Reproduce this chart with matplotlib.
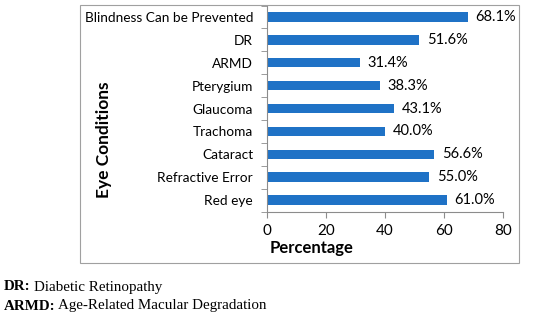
import matplotlib.pyplot as plt
import numpy as np
from matplotlib.patches import Rectangle

conditions = ["Red eye", "Refractive Error", "Cataract", "Trachoma", "Glaucoma",
              "Pterygium", "ARMD", "DR", "Blindness Can be Prevented"]
percent = [61.0, 55.0, 56.6, 40.0, 43.1, 38.3, 31.4, 51.6, 68.1]
xticks = [0, 20, 40, 60, 80]

BAR = "#1f72c6"
GRID = "#8c8c8c"
SANS = ["Lato", "DejaVu Sans"]
SERIF = ["Liberation Serif", "DejaVu Serif"]

W, H = 550, 320
fig = plt.figure(figsize=(W / 100, H / 100), dpi=100)
ax = fig.add_axes([267 / W, 1 - 211.5 / H, (503 - 267) / W, (211.5 - 5.6) / H])

y = np.arange(len(conditions))
bars = ax.barh(y, percent, height=0.41, color=BAR)
for b, v in zip(bars, percent):
    ax.text(v + 2.6, b.get_y() + b.get_height() / 2, f"{v:.1f}%",
            va="center", ha="left", fontsize=10.5, family=SANS)

ax.set_xlim(0, 80)
ax.set_ylim(-0.5, len(conditions) - 0.5)
ax.set_xticks(xticks)
ax.set_xticklabels([str(t) for t in xticks], fontsize=11, family=SANS)
ax.set_yticks(y)
ax.set_yticklabels(conditions, fontsize=9.8, family=SANS)
ax.set_yticks(np.arange(-0.5, len(conditions)), minor=True)
ax.tick_params(axis="y", which="major", length=0, pad=10)
ax.tick_params(axis="y", which="minor", length=4, color=GRID, direction="out")
ax.tick_params(axis="x", length=4, color=GRID, pad=5)

for s in ["top", "right"]:
    ax.spines[s].set_visible(False)
for s in ["left", "bottom"]:
    ax.spines[s].set_color(GRID)

# axis titles sit where Excel put them, not centred on the axes
fig.text(312 / W, 1 - 248 / H, "Percentage", ha="center", va="center",
         fontsize=12, fontweight="bold", family=SANS)
fig.text(104 / W, 1 - 140 / H, "Eye Conditions", rotation=90, ha="center", va="center",
         fontsize=12.5, fontweight="bold", family=SANS)

fig.patches.append(Rectangle((80 / W, 1 - 263 / H), (519 - 80) / W, (263 - 5) / H,
                             transform=fig.transFigure, fill=False,
                             edgecolor="#a0a0a0", linewidth=0.8))

# footnotes
fig.text(4 / W, 1 - 287 / H, "DR:", fontsize=10.8, va="center", family=SERIF, fontweight="bold")
fig.text(34 / W, 1 - 287 / H, "Diabetic Retinopathy", fontsize=10.8, va="center", family=SERIF)
fig.text(4 / W, 1 - 306 / H, "ARMD:", fontsize=10.8, va="center", family=SERIF, fontweight="bold")
fig.text(58 / W, 1 - 306 / H, "Age-Related Macular Degradation", fontsize=10.8, va="center",
         family=SERIF)

fig.savefig("out.png", dpi=100)
